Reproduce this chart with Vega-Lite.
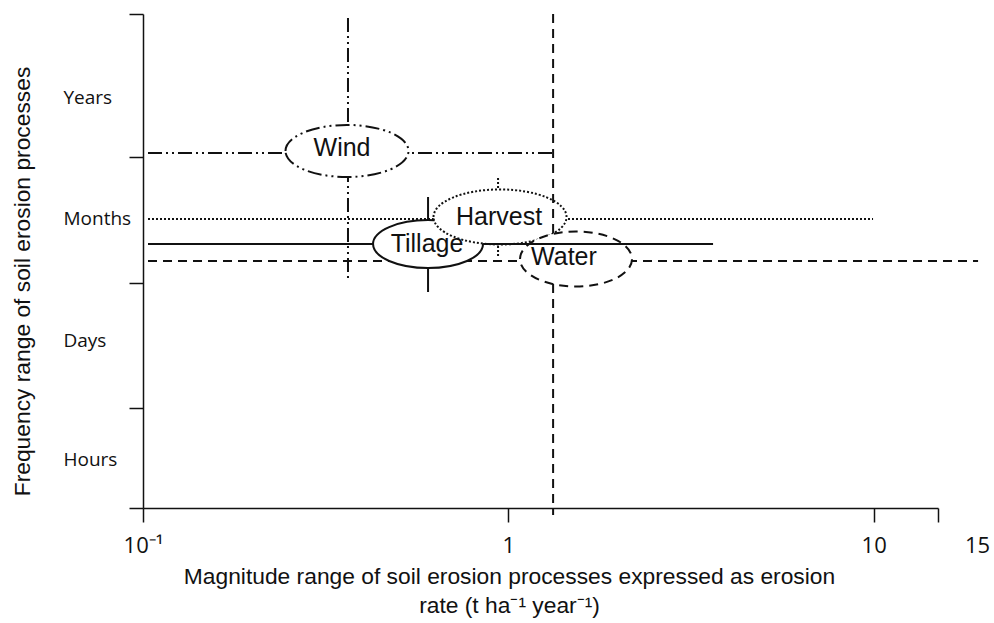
{
  "$schema": "https://vega.github.io/schema/vega-lite/v6.json",
  "width": 795,
  "height": 494,
  "autosize": {"type": "none"},
  "padding": {"left": 143, "top": 14, "right": 56, "bottom": 115},
  "config": {"view": {"stroke": null}, "font": "Liberation Sans"},
  "datasets": {
    "ranges": [
      {"process": "Wind", "part": "horizontal", "x": 0.1032, "x2": 1.326, "y": 71.86, "y2": 71.86},
      {"process": "Wind", "part": "vertical", "x": 0.364, "x2": 0.364, "y": 99.19, "y2": 46.56},
      {"process": "Harvest", "part": "horizontal", "x": 0.1032, "x2": 9.96, "y": 58.5, "y2": 58.5},
      {"process": "Harvest", "part": "vertical", "x": 0.9372, "x2": 0.9372, "y": 66.8, "y2": 50.81},
      {"process": "Water", "part": "horizontal", "x": 0.1032, "x2": 19.31, "y": 50.0, "y2": 50.0},
      {"process": "Tillage", "part": "horizontal left", "x": 0.1032, "x2": 0.4317, "y": 53.44, "y2": 53.44},
      {"process": "Tillage", "part": "vertical", "x": 0.6029, "x2": 0.6029, "y": 62.96, "y2": 43.72},
      {"process": "Tillage", "part": "horizontal right", "x": 0.8527, "x2": 3.634, "y": 53.44, "y2": 53.44},
      {"process": "Water", "part": "vertical top", "x": 1.326, "x2": 1.326, "y": 100, "y2": 55.47},
      {"process": "Water", "part": "vertical bottom", "x": 1.326, "x2": 1.326, "y": 45.34, "y2": -1.42}
    ],
    "ellipses": [
      {"process": "Wind", "x": 0.3617, "y": 72.27},
      {"process": "Tillage", "x": 0.6029, "y": 53.44},
      {"process": "Harvest", "x": 0.949, "y": 58.91},
      {"process": "Water", "x": 1.532, "y": 50.4}
    ],
    "labels": [
      {"process": "Wind", "x": 0.3506, "y": 72.87},
      {"process": "Tillage", "x": 0.599, "y": 53.44},
      {"process": "Harvest", "x": 0.943, "y": 58.91},
      {"process": "Water", "x": 1.42, "y": 50.81}
    ]
  },
  "layer": [
    {
      "data": {"name": "ranges"},
      "transform": [{"filter": "!(datum.process == 'Water' && datum.part != 'horizontal') && datum.part != 'horizontal right'"}],
      "mark": {"type": "rule", "strokeWidth": 2, "color": "#111"},
      "encoding": {
        "x": {
          "field": "x", "type": "quantitative",
          "scale": {"type": "log", "domain": [0.1, 15], "nice": false, "zero": false},
          "axis": {
            "values": [0.1, 1, 10, 15],
            "labelExpr": "datum.value < 0.5 ? '10⁻¹' : datum.value < 5 ? '1' : datum.value < 12 ? '10' : '15'",
            "labelOffset": {"condition": {"test": "datum.value > 12", "value": 39}, "value": 0},
            "tickSize": 14, "tickColor": "#111", "tickWidth": 1.5,
            "domainColor": "#111", "domainWidth": 1.5,
            "labelFont": "Open Sans", "labelFontSize": 22, "labelColor": "#111", "labelPadding": 13,
            "labelFlush": false, "labelOverlap": false, "grid": false,
            "title": ["Magnitude range of soil erosion processes expressed as erosion", "rate (t ha⁻¹ year⁻¹)"],
            "titleFont": "Liberation Sans", "titleFontSize": 22.8, "titleFontWeight": "normal", "titleColor": "#111",
            "titleX": 366, "titleY": 57, "titleAlign": "center", "titleBaseline": "top", "titleLineHeight": 29
          }
        },
        "x2": {"field": "x2"},
        "y": {
          "field": "y", "type": "quantitative",
          "scale": {"domain": [0, 100], "nice": false, "zero": false},
          "axis": {
            "values": [0, 9.86, 20.24, 34, 45.55, 58.7, 71.05, 83, 100],
            "labelExpr": "datum.value == 9.86 ? 'Hours' : datum.value == 34 ? 'Days' : datum.value == 58.7 ? 'Months' : datum.value == 83 ? 'Years' : ''",
            "tickOpacity": {"condition": {"test": "indexof([9.86, 34, 58.7, 83], datum.value) >= 0", "value": 0}, "value": 1},
            "tickSize": 14, "tickColor": "#111", "tickWidth": 1.5,
            "domainColor": "#111", "domainWidth": 1.5,
            "labelAlign": "left", "labelBaseline": "middle", "labelPadding": 66,
            "labelFont": "Open Sans", "labelFontSize": 19, "labelColor": "#111",
            "labelFlush": false, "labelOverlap": false, "labelBound": false, "grid": false,
            "title": "Frequency range of soil erosion processes",
            "titleFont": "Liberation Sans", "titleFontSize": 22.8, "titleFontWeight": "normal", "titleColor": "#111",
            "titleAngle": -90, "titleX": -121, "titleY": 267, "titleAlign": "center", "titleBaseline": "middle"
          }
        },
        "y2": {"field": "y2"},
        "strokeDash": {
          "field": "process", "type": "nominal",
          "scale": {"domain": ["Wind", "Tillage", "Harvest", "Water"], "range": [[14, 4, 2, 4, 2, 4], [1, 0], [2, 2], [9, 6]]},
          "legend": null
        }
      }
    },
    {
      "data": {"name": "ellipses"},
      "transform": [{"filter": "datum.process == 'Wind'"}],
      "mark": {"type": "point", "shape": "M-1,0C-1,-0.2336,-0.5523,-0.423,0,-0.423C0.5523,-0.423,1,-0.2336,1,0C1,0.2336,0.5523,0.423,0,0.423C-0.5523,0.423,-1,0.2336,-1,0Z", "size": 15129, "fill": "white", "fillOpacity": 1, "stroke": "#111", "strokeWidth": 2, "strokeDash": [14, 4, 2, 4, 2, 4], "opacity": 1},
      "encoding": {"x": {"field": "x", "type": "quantitative"}, "y": {"field": "y", "type": "quantitative"}}
    },
    {
      "data": {"name": "ellipses"},
      "transform": [{"filter": "datum.process == 'Tillage'"}],
      "mark": {"type": "point", "shape": "M-1,0C-1,-0.2408,-0.5523,-0.436,0,-0.436C0.5523,-0.436,1,-0.2408,1,0C1,0.2408,0.5523,0.436,0,0.436C-0.5523,0.436,-1,0.2408,-1,0Z", "size": 12100, "fill": "white", "fillOpacity": 1, "stroke": "#111", "strokeWidth": 2, "opacity": 1},
      "encoding": {"x": {"field": "x", "type": "quantitative"}, "y": {"field": "y", "type": "quantitative"}}
    },
    {
      "data": {"name": "ellipses"},
      "transform": [{"filter": "datum.process == 'Harvest'"}],
      "mark": {"type": "point", "shape": "M-1,0C-1,-0.2287,-0.5523,-0.414,0,-0.414C0.5523,-0.414,1,-0.2287,1,0C1,0.2287,0.5523,0.414,0,0.414C-0.5523,0.414,-1,0.2287,-1,0Z", "size": 17689, "fill": "white", "fillOpacity": 1, "stroke": "#111", "strokeWidth": 2, "strokeDash": [2, 2], "opacity": 1},
      "encoding": {"x": {"field": "x", "type": "quantitative"}, "y": {"field": "y", "type": "quantitative"}}
    },
    {
      "data": {"name": "ellipses"},
      "transform": [{"filter": "datum.process == 'Water'"}],
      "mark": {"type": "point", "shape": "M-1,0C-1,-0.2712,-0.5523,-0.491,0,-0.491C0.5523,-0.491,1,-0.2712,1,0C1,0.2712,0.5523,0.491,0,0.491C-0.5523,0.491,-1,0.2712,-1,0Z", "size": 12544, "fill": "white", "fillOpacity": 1, "stroke": "#111", "strokeWidth": 2, "strokeDash": [9, 6], "opacity": 1},
      "encoding": {"x": {"field": "x", "type": "quantitative"}, "y": {"field": "y", "type": "quantitative"}}
    },
    {
      "data": {"name": "ranges"},
      "transform": [{"filter": "(datum.process == 'Water' && datum.part != 'horizontal') || datum.part == 'horizontal right'"}],
      "mark": {"type": "rule", "strokeWidth": 2, "color": "#111"},
      "encoding": {
        "x": {"field": "x", "type": "quantitative"},
        "x2": {"field": "x2"},
        "y": {"field": "y", "type": "quantitative"},
        "y2": {"field": "y2"},
        "strokeDash": {"field": "process", "type": "nominal", "legend": null}
      }
    },
    {
      "data": {"name": "labels"},
      "mark": {"type": "text", "font": "Liberation Sans", "fontSize": 25, "color": "#111", "align": "center", "baseline": "middle"},
      "encoding": {
        "x": {"field": "x", "type": "quantitative"},
        "y": {"field": "y", "type": "quantitative"},
        "text": {"field": "process"}
      }
    }
  ]
}
